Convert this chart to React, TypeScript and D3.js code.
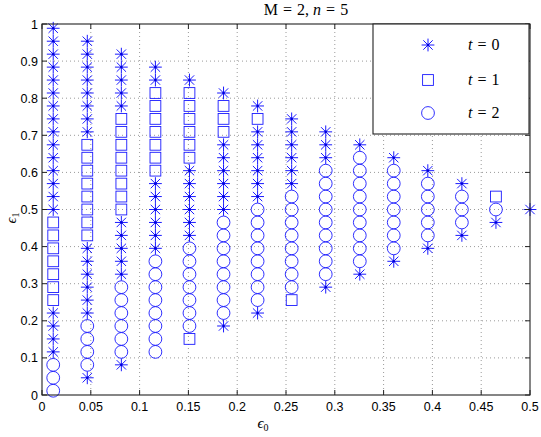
import React from "react";
import * as d3 from "d3";

// x positions (epsilon_0) of the marker columns
const xValues = [0.0115, 0.0464, 0.0813, 0.1162, 0.1511, 0.186, 0.2209, 0.2558, 0.2907, 0.3256, 0.3604, 0.3953, 0.4302, 0.4651, 0.5];
// y levels (epsilon_1) of the grid
const yLevels = [
  0.0115, 0.0464, 0.0813, 0.1162, 0.1511, 0.186, 0.2209, 0.2558, 0.2907, 0.3256,
  0.3604, 0.3953, 0.4302, 0.4651, 0.5, 0.5349, 0.5698, 0.6047, 0.6396, 0.6744,
  0.7093, 0.7442, 0.7791, 0.814, 0.8489, 0.8838, 0.9187, 0.9536, 0.9885,
];
// marker code per point, bottom to top, column k starts at level k
// "*" : t = 0, "s" : t = 1, "o" : t = 2
const columnMarkers = [
  "ooo****sssssss***************",
  "*oooo******ssssssss********",
  "*oooooo*****ssssssss*****",
  "oooooooo******sssssss**",
  "sooooooo******ssssss*",
  "*oooooooo******sss*",
  "*oooooooo******s*",
  "soooooooo******",
  "*ooooooooo***",
  "*ooooooooo*",
  "*ooooooo*",
  "*ooooo*",
  "*ooo*",
  "*os",
  "*",
];
const xTicks = [0, 0.05, 0.1, 0.15, 0.2, 0.25, 0.3, 0.35, 0.4, 0.45, 0.5];
const yTicks = [0, 0.1, 0.2, 0.3, 0.4, 0.5, 0.6, 0.7, 0.8, 0.9, 1];
const legendItems = [
  { code: "*", label: "0" },
  { code: "s", label: "1" },
  { code: "o", label: "2" },
];

const W = 541;
const H = 437;
const left = 42, right = 530, top = 24, bottom = 395;
const blue = "#1a1aff";
const serif = "'Liberation Serif', 'DejaVu Serif', serif";
const sans = "'Liberation Sans', Arial, sans-serif";

function Marker({ code, x, y }: { code: string; x: number; y: number }) {
  if (code === "o") {
    return <circle cx={x} cy={y} r={6.4} fill="none" stroke={blue} strokeWidth={0.9} />;
  }
  if (code === "s") {
    const h = 5.4;
    return <rect x={x - h} y={y - h} width={2 * h} height={2 * h} fill="none" stroke={blue} strokeWidth={0.9} />;
  }
  const s = 6.4;
  const d = 4.7;
  const p = `M${x - s},${y}L${x + s},${y}M${x},${y - s}L${x},${y + s}M${x - d},${y - d}L${x + d},${y + d}M${x - d},${y + d}L${x + d},${y - d}`;
  return (
    <g>
      <path d={p} stroke={blue} strokeWidth={1} fill="none" />
      <circle cx={x} cy={y} r={1.3} fill="#0000dd" />
    </g>
  );
}

export default function App() {
  const xs = d3.scaleLinear().domain([0, 0.5]).range([left, right]);
  const ys = d3.scaleLinear().domain([0, 1]).range([bottom, top]);

  const points: { x: number; y: number; code: string; key: string }[] = [];
  columnMarkers.forEach((str, k) => {
    str.split("").forEach((code, i) => {
      points.push({ x: xValues[k], y: yLevels[k + i], code, key: `${k}-${i}` });
    });
  });

  const tl = 5;
  return (
    <svg width={W} height={H} style={{ position: "absolute", left: 0, top: 0, background: "#fff" }}>
      <rect x={0} y={0} width={W} height={H} fill="#fff" />
      {/* grid */}
      <g stroke="#9a9a9a" strokeWidth={1} strokeDasharray="1,3">
        {xTicks.slice(1, -1).map((t) => (
          <line key={"gx" + t} x1={xs(t)} x2={xs(t)} y1={top} y2={bottom} />
        ))}
        {yTicks.slice(1, -1).map((t) => (
          <line key={"gy" + t} x1={left} x2={right} y1={ys(t)} y2={ys(t)} />
        ))}
      </g>
      {/* markers */}
      {points.map((p) => (
        <Marker key={p.key} code={p.code} x={xs(p.x)} y={ys(p.y)} />
      ))}
      {/* ticks */}
      <g stroke="#222" strokeWidth={1}>
        {xTicks.map((t) => (
          <g key={"tx" + t}>
            <line x1={xs(t)} x2={xs(t)} y1={bottom} y2={bottom - tl} />
            <line x1={xs(t)} x2={xs(t)} y1={top} y2={top + tl} />
          </g>
        ))}
        {yTicks.map((t) => (
          <g key={"ty" + t}>
            <line x1={left} x2={left + tl} y1={ys(t)} y2={ys(t)} />
            <line x1={right} x2={right - tl} y1={ys(t)} y2={ys(t)} />
          </g>
        ))}
      </g>
      <rect x={left} y={top} width={right - left} height={bottom - top} fill="none" stroke="#222" strokeWidth={1.1} />
      {/* tick labels */}
      <g fontFamily={sans} fontSize={12.5} fill="#000">
        {xTicks.map((t) => (
          <text key={"lx" + t} x={xs(t)} y={bottom + 16} textAnchor="middle">
            {String(t)}
          </text>
        ))}
        {yTicks.map((t) => (
          <text key={"ly" + t} x={left - 4} y={ys(t) + 4.5} textAnchor="end">
            {String(t)}
          </text>
        ))}
      </g>
      {/* title */}
      <text x={306} y={15} textAnchor="middle" fontFamily={serif} fontSize={16}>
        <tspan>M</tspan>
        <tspan dx={5}>=</tspan>
        <tspan dx={5}>2,</tspan>
        <tspan dx={4} fontStyle="italic">n</tspan>
        <tspan dx={5}>=</tspan>
        <tspan dx={5}>5</tspan>
      </text>
      {/* axis labels */}
      <text x={263} y={428} textAnchor="middle" fontFamily={serif} fontSize={15}>
        <tspan fontStyle="italic">ϵ</tspan>
        <tspan fontSize={10} dy={3}>0</tspan>
      </text>
      <text transform={`translate(16,${218}) rotate(-90)`} textAnchor="middle" fontFamily={serif} fontSize={15}>
        <tspan fontStyle="italic">ϵ</tspan>
        <tspan fontSize={10} dy={3}>1</tspan>
      </text>
      {/* legend */}
      <rect x={373} y={top} width={156} height={110} fill="#fff" stroke="#222" strokeWidth={1.1} />
      {legendItems.map((it, i) => {
        const cy = [45, 80, 113][i];
        return (
          <g key={"lg" + i}>
            <Marker code={it.code} x={428} y={cy} />
            <text x={468} y={cy + 5} fontFamily={serif} fontSize={16}>
              <tspan fontStyle="italic">t</tspan>
              <tspan dx={5}>=</tspan>
              <tspan dx={5}>{it.label}</tspan>
            </text>
          </g>
        );
      })}
    </svg>
  );
}
